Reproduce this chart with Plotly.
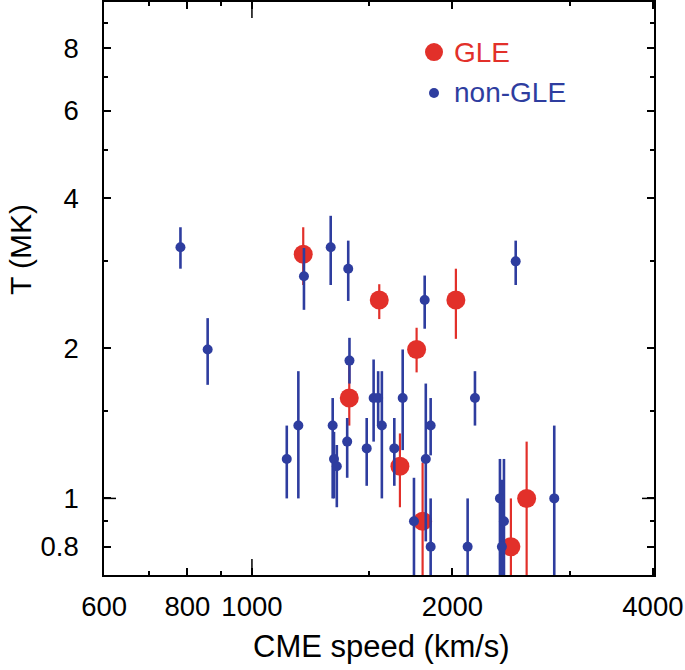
import numpy as np
import plotly.graph_objects as go

# ---- data ----
gle_speed = [1194, 1400, 1553, 2024, 1767, 1668, 1804, 2448, 2585]
gle_T     = [3.09, 1.59, 2.50, 2.50, 1.99, 1.16, 0.90, 0.80, 1.00]
gle_T_hi  = [3.50, 1.85, 2.69, 2.89, 2.20, 1.35, 1.18, 1.00, 1.30]
gle_T_lo  = [2.68, 1.40, 2.29, 2.09, 1.79, 0.96, 0.65, 0.65, 0.65]

non_speed = [781, 858, 1197, 1313, 1395, 1401, 1817, 2489, 1128, 1174,
             1322, 1328, 1341, 1390, 1487, 1523, 1547, 1567, 1636, 1684,
             1751, 1855, 1824, 1855, 2162, 2108, 2357, 2390, 2373, 2844]
non_T     = [3.19, 1.99, 2.79, 3.19, 2.89, 1.89, 2.50, 2.99, 1.20, 1.40,
             1.40, 1.20, 1.16, 1.30, 1.26, 1.59, 1.59, 1.40, 1.26, 1.59,
             0.90, 1.40, 1.20, 0.80, 1.59, 0.80, 1.00, 0.90, 0.80, 1.00]
non_T_hi  = [3.50, 2.30, 3.18, 3.69, 3.29, 2.10, 2.80, 3.29, 1.40, 1.80,
             1.59, 1.36, 1.28, 1.45, 1.45, 1.90, 1.80, 1.80, 1.45, 1.99,
             1.10, 1.59, 1.70, 1.00, 1.80, 1.00, 1.20, 1.20, 1.09, 1.40]
non_T_lo  = [2.89, 1.69, 2.39, 2.68, 2.49, 1.70, 2.19, 2.68, 1.00, 1.00,
             1.00, 1.00, 0.96, 1.10, 1.06, 1.30, 1.40, 1.00, 1.06, 1.25,
             0.65, 1.22, 0.82, 0.65, 1.40, 0.65, 0.65, 0.65, 0.65, 0.65]

x_tickvals = [600, 800, 1000, 2000, 4000]
x_ticktext = ["600", "800", "1000", "2000", "4000"]
x_minor = [700, 900, 1500, 3000]
y_tickvals = [0.8, 1, 2, 4, 6, 8]
y_ticktext = ["0.8", "1", "2", "4", "6", "8"]
y_minor = [0.7, 0.9, 1.5, 3, 5, 7, 9]

RED = "#e2302a"
BLUE = "#2e3d9f"
FONT = "Liberation Sans, Arial, sans-serif"

def errs(v, hi, lo):
    v = np.array(v); return (np.array(hi) - v).tolist(), (v - np.array(lo)).tolist()

g_up, g_dn = errs(gle_T, gle_T_hi, gle_T_lo)
n_up, n_dn = errs(non_T, non_T_hi, non_T_lo)

fig = go.Figure()
fig.add_trace(go.Scatter(
    x=gle_speed, y=gle_T, mode="markers", name="GLE",
    marker=dict(color=RED, size=19, line=dict(width=0)),
    error_y=dict(type="data", symmetric=False, array=g_up, arrayminus=g_dn,
                 color=RED, thickness=2.2, width=0),
    showlegend=False))
fig.add_trace(go.Scatter(
    x=non_speed, y=non_T, mode="markers", name="non-GLE",
    marker=dict(color=BLUE, size=10, line=dict(width=0)),
    error_y=dict(type="data", symmetric=False, array=n_up, arrayminus=n_dn,
                 color=BLUE, thickness=2.6, width=0),
    showlegend=False))

axis_common = dict(showline=True, linecolor="black", linewidth=1.6, mirror="ticks",
                   ticks="inside", ticklen=7, tickwidth=1.5, tickcolor="black",
                   showgrid=False, zeroline=False, tickangle=0, automargin=False,
                   tickfont=dict(family=FONT, size=27.5, color="black"))

fig.update_xaxes(type="log", range=[np.log10(599.6), np.log10(4015)],
                 tickmode="array", tickvals=x_tickvals, ticktext=x_ticktext,
                 ticklabelstandoff=6,
                 minor=dict(tickmode="array", tickvals=x_minor, ticks="inside",
                            ticklen=4, tickwidth=1.5, tickcolor="black"),
                 **axis_common)
fig.update_yaxes(type="log", range=[np.log10(0.702), 0.996],
                 tickmode="array", tickvals=y_tickvals, ticktext=y_ticktext,
                 ticklabelstandoff=18,
                 minor=dict(tickmode="array", tickvals=y_minor, ticks="inside",
                            ticklen=4, tickwidth=1.5, tickcolor="black"),
                 **axis_common)

# longer ticks at 1000 km/s and 1 MK (as in the reference)
for ya, sgn in ((0, 1), (1, -1)):
    fig.add_shape(type="line", xref="x", yref="paper", ysizemode="pixel", yanchor=ya,
                  x0=1000, x1=1000, y0=0, y1=16 * sgn, line=dict(color="black", width=1.5))
for xa, sgn in ((0, 1), (1, -1)):
    fig.add_shape(type="line", xref="paper", yref="y", xsizemode="pixel", xanchor=xa,
                  y0=1, y1=1, x0=0, x1=12 * sgn, line=dict(color="black", width=1.5))

# legend drawn as shapes + text
fig.add_shape(type="circle", xref="paper", yref="paper", xsizemode="pixel", ysizemode="pixel",
              xanchor=0.6, yanchor=0.9127, x0=-9, x1=9, y0=-9, y1=9,
              fillcolor=RED, line=dict(width=0))
fig.add_shape(type="circle", xref="paper", yref="paper", xsizemode="pixel", ysizemode="pixel",
              xanchor=0.6, yanchor=0.8412, x0=-5, x1=5, y0=-5, y1=5,
              fillcolor=BLUE, line=dict(width=0))
fig.add_annotation(x=0.6327, y=0.9127, xref="paper", yref="paper", text="GLE",
                   showarrow=False, xanchor="left", yanchor="middle",
                   font=dict(family=FONT, size=28, color=RED))
fig.add_annotation(x=0.6327, y=0.8412, xref="paper", yref="paper", text="non-GLE",
                   showarrow=False, xanchor="left", yanchor="middle",
                   font=dict(family=FONT, size=28, color=BLUE))

# axis titles
fig.add_annotation(x=0.504, y=-0.124, xref="paper", yref="paper", text="CME speed (km/s)",
                   showarrow=False, xanchor="center", yanchor="middle",
                   font=dict(family=FONT, size=31, color="black"))
fig.add_annotation(x=-0.1527, y=0.567, xref="paper", yref="paper", text="T (MK)",
                   showarrow=False, xanchor="center", yanchor="middle", textangle=-90,
                   font=dict(family=FONT, size=30, color="black"))

fig.update_layout(width=685, height=670, margin=dict(l=104, r=31, t=2, b=95),
                  paper_bgcolor="white", plot_bgcolor="white", showlegend=False)

fig.write_html("out.html", config={"displayModeBar": False},
               post_script="document.body.style.margin='0';document.body.style.overflow='hidden';")
